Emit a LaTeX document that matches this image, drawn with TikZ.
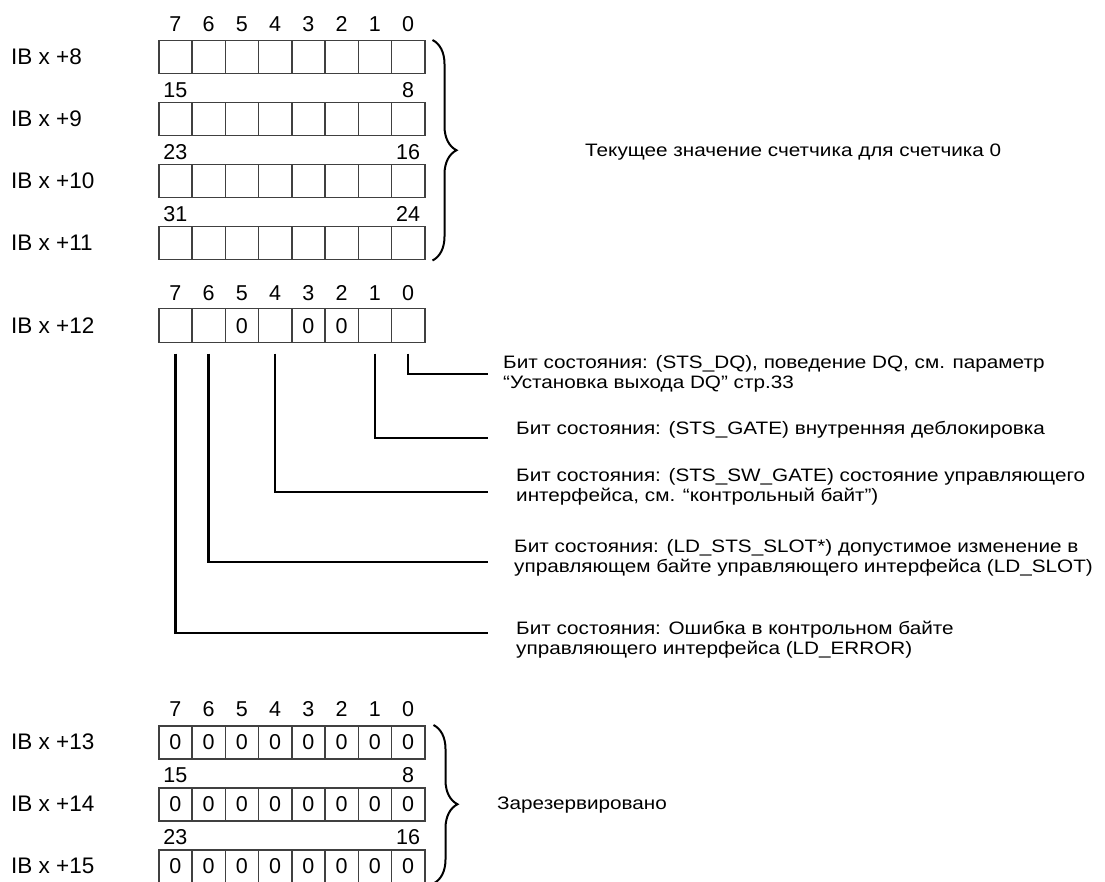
\documentclass[tikz,border=0pt]{standalone}
\usepackage{fontspec}
\setmainfont{Liberation Sans}
\newfontfamily\descfont{Liberation Sans}[FakeStretch=1.15]
\usetikzlibrary{decorations.pathreplacing}

\newcommand\numfont{\fontsize{21.5}{21.5}\selectfont}

\begin{document}
\begin{tikzpicture}[x=1pt,y=-1pt,
    cell/.style={draw=black!75,line width=1.5pt,minimum width=33.25pt,minimum height=33pt,
      inner sep=0pt,anchor=north west,font=\numfont},
    digit/.style={inner sep=0pt,font=\numfont},
    reg/.style={anchor=west,inner sep=0pt,font=\fontsize{22.5}{22.5}\selectfont},
    desc/.style={anchor=west,align=left,inner sep=0pt,font=\descfont\fontsize{18}{20}\selectfont},
    lead/.style={line width=2.3pt},
    curly/.style={decorate,decoration={brace,amplitude=24pt},line width=2pt}]
  \useasboundingbox (0,0) rectangle (1105,882);
  \pgfmathsetmacro{\xl}{158}
  \pgfmathsetmacro{\cw}{33.25}

  % current counter value, IB x+8 .. x+11
    \foreach \byte [count=\k] [evaluate=\k as \y using 40+(\k-1)*62] in {8,...,11}
    {
      \node[reg] (ib\byte) at (11,\y+16.5) {IB x +\byte};
      \foreach \n [count=\i] in {7,...,0}
        \node[cell] (r\byte-\n) at (\xl+\i*\cw-\cw,\y) {};
    }
    \foreach \n in {7,...,0}
      \node[digit] at ([yshift=16pt]r8-\n.north) {\n};

  % status byte IB x+12
    \node[reg] (ib12) at (11,326) {IB x +12};
    \foreach \n [count=\i] in {7,...,0}
      \node[cell,minimum height=34pt] (r12-\n) at (\xl+\i*\cw-\cw,308) {};
    \foreach \n in {7,...,0}
      \node[digit] at ([yshift=15pt]r12-\n.north) {\n};
    \foreach \n in {5,3,2}
      \node[digit] at (r12-\n) {0};

  % reserved, IB x+13 .. x+15
    \foreach \byte [count=\k] [evaluate=\k as \y using 725+(\k-1)*62] in {13,...,15}
    {
      \node[reg] (ib\byte) at (11,\y+16.5) {IB x +\byte};
      \foreach \n [count=\i] in {7,...,0}
        \node[cell] (r\byte-\n) at (\xl+\i*\cw-\cw,\y) {0};
    }
    \foreach \n in {7,...,0}
      \node[digit] at ([yshift=16pt]r13-\n.north) {\n};

  % bit ranges over the higher bytes
    \foreach \byte/\hi/\lo in {9/15/8,10/23/16,11/31/24,14/15/8,15/23/16}
    {
      \node[digit] at ([yshift=12pt]r\byte-7.north) {\hi};
      \node[digit] at ([yshift=12pt]r\byte-0.north) {\lo};
    }

  \draw[curly] ([xshift=7pt]r8-0.north east) -- ([xshift=7pt]r11-0.south east);
  \draw[curly] ([xshift=8pt]r13-0.north east) -- ([xshift=8pt]r15-0.south east);
  \node[desc] (cnt) at (585,152) {Текущее значение счетчика для счетчика 0};
  \node[desc] (rsv) at (497,805) {Зарезервировано};

  % status bits
    \node[desc] (d0) at (503,373.5) {Бит состояния: (STS\_DQ), поведение DQ, см. параметр\\“Установка выхода DQ” стр.33};
    \node[desc] (d1) at (516,430) {Бит состояния: (STS\_GATE) внутренняя деблокировка};
    \node[desc] (d4) at (516,487) {Бит состояния: (STS\_SW\_GATE) состояние управляющего\\интерфейса, см. “контрольный байт”)};
    \node[desc] (d6) at (514,558) {Бит состояния: (LD\_STS\_SLOT*) допустимое изменение в\\управляющем байте управляющего интерфейса (LD\_SLOT)};
    \node[desc] (d7) at (516,640) {Бит состояния: Ошибка в контрольном байте\\управляющего интерфейса (LD\_ERROR)};
    \foreach \n/\yy in {0/374,1/438,4/492,6/562,7/633}
    {
      \coordinate (e\n) at (488,\yy);
      \draw[lead] ([yshift=-10pt]r12-\n.south) |- (e\n);
    }
\end{tikzpicture}
\end{document}
